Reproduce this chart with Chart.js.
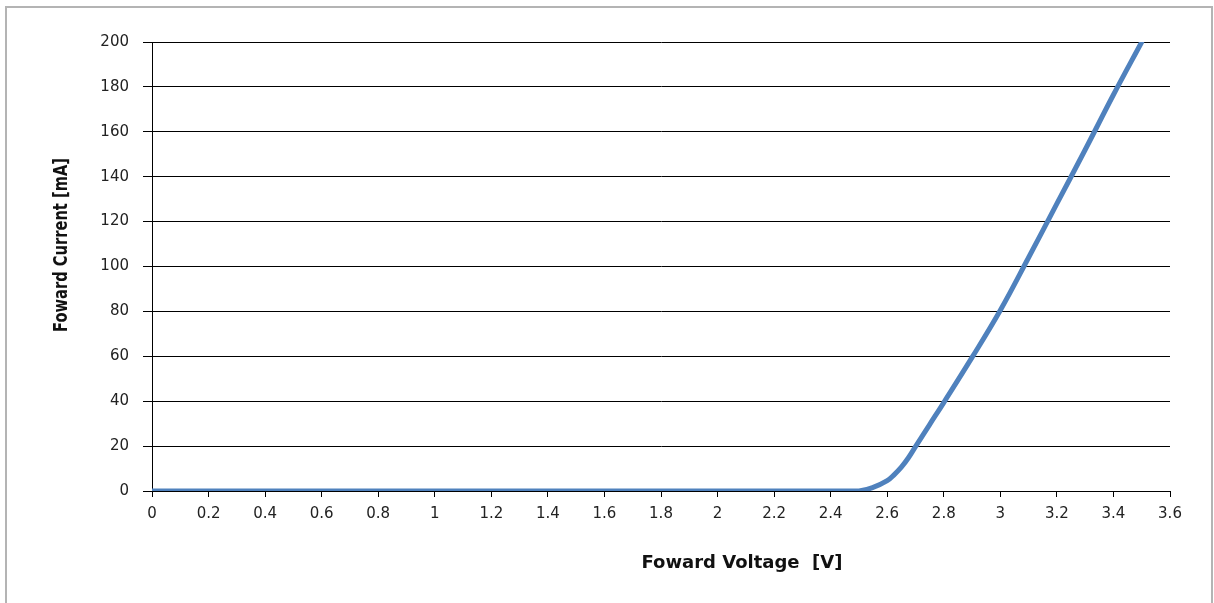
<!DOCTYPE html>
<html>
<head>
<meta charset="utf-8">
<script src="https://cdn.jsdelivr.net/npm/chart.js@4"></script>
<style>
  html, body { margin: 0; padding: 0; background: #fff; overflow: hidden; }
  .wrap { position: relative; width: 1214px; height: 603px; }
  .frame { position: absolute; left: 5px; top: 6px; width: 1204px; height: 620px;
           border: 2px solid #b4b4b4; pointer-events: none; }
</style>
</head>
<body>
<div class="wrap">
  <canvas id="ivChart"></canvas>
  <div class="frame"></div>
</div>
<script>
// forward voltage [V] and forward current [mA]
const voltage = [0, 2.4, 2.5, 2.55, 2.6, 2.625, 2.65, 2.675, 2.7, 2.75, 2.8, 2.9, 3.0, 3.1, 3.2, 3.3, 3.4, 3.5];
const current = [0, 0, 0, 1.6, 4.6, 7.3, 10.6, 14.8, 19.8, 29.6, 39.4, 59.5, 80.5, 104, 128, 152, 176.5, 200];

const xTitle = 'Foward Voltage  [V]';
const yTitle = 'Foward Current [mA]';

const tickFont = { family: '"DejaVu Sans", sans-serif', size: 15 };

// axis titles sit off-centre in the original, so draw them by hand
const axisTitles = {
  id: 'axisTitles',
  afterDraw(chart) {
    const ctx = chart.ctx;
    ctx.save();
    ctx.fillStyle = '#111';
    ctx.font = 'bold 18px "DejaVu Sans", sans-serif';
    ctx.textAlign = 'center';
    ctx.textBaseline = 'alphabetic';
    ctx.fillText(xTitle, 742, 568);

    ctx.font = 'bold 19px "DejaVu Sans", sans-serif';
    const w = ctx.measureText(yTitle).width;
    ctx.translate(67, 245);
    ctx.rotate(-Math.PI / 2);
    ctx.scale(174 / w, 1);
    ctx.fillText(yTitle, 0, 0);
    ctx.restore();
  }
};

const ctx = document.getElementById('ivChart');

new Chart(ctx, {
  type: 'line',
  data: {
    datasets: [{
      data: voltage.map((v, i) => ({ x: v, y: current[i] })),
      borderColor: '#4f81bd',
      borderWidth: 5,
      pointRadius: 0,
      tension: 0.4,
      borderCapStyle: 'round',
      fill: false
    }]
  },
  options: {
    responsive: true,
    maintainAspectRatio: false,
    animation: false,
    layout: { padding: { top: 42, right: 44, left: 0, bottom: 0 } },
    plugins: {
      legend: { display: false },
      tooltip: { enabled: false }
    },
    scales: {
      x: {
        type: 'linear',
        min: 0,
        max: 3.6,
        afterFit(scale) { scale.height = 112; },
        ticks: {
          stepSize: 0.2,
          color: '#222',
          font: tickFont,
          padding: 8,
          maxRotation: 0,
          callback: v => String(Math.round(v * 10) / 10)
        },
        grid: {
          drawOnChartArea: false,
          drawTicks: true,
          tickLength: 6,
          color: '#000'
        },
        border: { display: true, color: '#000', width: 1 }
      },
      y: {
        min: 0,
        max: 200,
        afterFit(scale) { scale.width = 152; },
        ticks: {
          stepSize: 20,
          color: '#222',
          font: tickFont,
          padding: 14
        },
        grid: {
          color: '#000',
          lineWidth: 1,
          tickLength: 9
        },
        border: { display: true, color: '#000', width: 1 }
      }
    }
  },
  plugins: [axisTitles]
});
</script>
</body>
</html>
